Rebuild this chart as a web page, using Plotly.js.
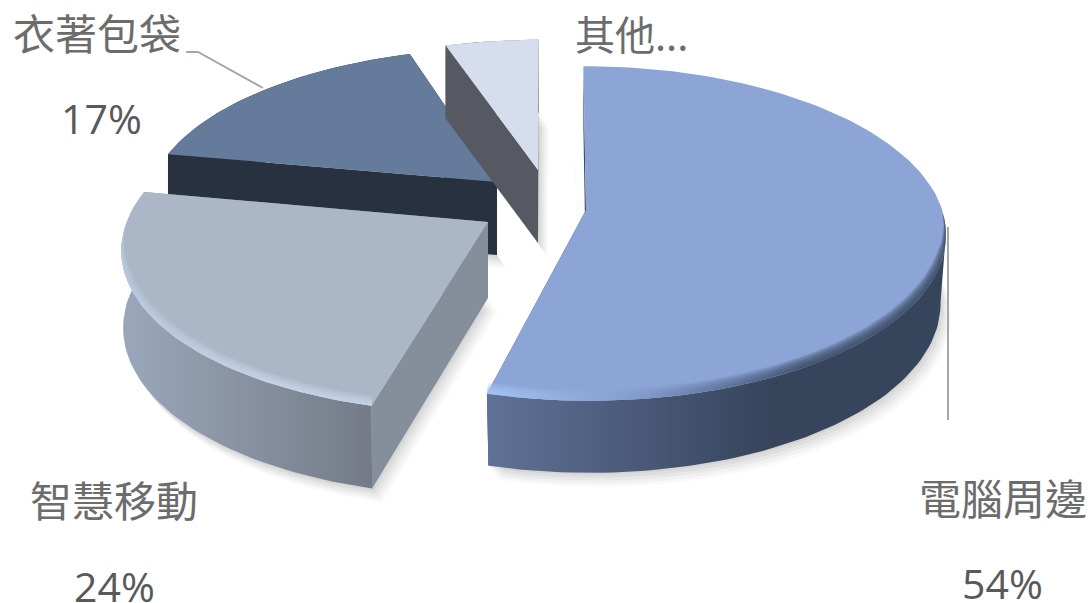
<!DOCTYPE html>
<html>
<head>
<meta charset="utf-8">
<script src="https://cdn.plot.ly/plotly-3.0.1.min.js"></script>
<style>html,body{margin:0;padding:0;background:#fff}#c{width:1089px;height:603px}</style>
</head>
<body>
<div id="c"></div>
<script>
// data
const categories = ["電腦周邊", "智慧移動", "衣著包袋", "其他..."];
const values = [54, 24, 17, 5];
const shownPercent = ["54%", "24%", "17%", ""];

// geometry of the tilted, exploded pie
const RX = 356, RY = 164, P = 0.14;
const slices = [
  {apex:[586,210], sx:1.00, sy:1.00, skew:3,    depth:68, dv:0.06, from:98, floorX:0.985,
   top:"#8ca5d6", face:"#3a4a63", side:["#5f7196","#36445c"], sideRange:[490,770],
   rim:["rgba(170,200,248,A)","rgba(125,150,200,A)","rgba(54,68,92,A)"], rimRange:[490,800], rimA:0.2, rimH:11},
  {apex:[488,222], sx:1.015, sy:1.00, skew:-11, depth:76, dv:0.09, from:0, floorX:0.995,
   top:"#abb7c7", face:"#848f9b", side:["#9aa7ba","#747b87"], sideRange:[125,372],
   rim:["rgba(190,208,232,A)","rgba(205,220,240,A)","rgba(205,220,240,A)"], rimRange:[125,372], rimA:0.14, rimH:10},
  {apex:[497,182], sx:0.97, sy:0.93, skew:-8.6, depth:73, dv:0,    from:0, floorX:1,
   top:"#657b9b", face:"#27313f", side:["#27313f","#27313f"], sideRange:[160,500], rim:null},
  {apex:[538,170], sx:0.96, sy:0.905, skew:-1,  depth:73, dv:0,    from:0, floorX:1,
   top:"#d6deed", face:"#565962", side:["#565962","#565962"], sideRange:[440,540], rim:null}
];

const rad = d => d * Math.PI / 180;
const total = values.reduce((a, b) => a + b, 0);
let acc = 0;
slices.forEach((sl, i) => {
  sl.t0 = acc / total * 360;
  acc += values[i];
  sl.t1 = acc / total * 360;
});

function rimPt(sl, t) {
  const u = Math.sin(rad(t)), v = -Math.cos(rad(t));
  const k = 1 / (1 - P * v);
  return {u, v,
    x: sl.apex[0] + sl.sx * (RX * u + sl.skew * v) * k,
    y: sl.apex[1] + sl.sy * RY * v * k};
}
function floorPt(sl, t) {
  const p = rimPt(sl, t);
  return {x: sl.apex[0] + (p.x - sl.apex[0]) * sl.floorX,
          y: p.y + sl.depth * (1 + sl.dv * p.v)};
}
function arc(fn, a, b) {
  const n = Math.max(2, Math.ceil(Math.abs(b - a) / 1.5));
  const o = [];
  for (let i = 0; i <= n; i++) o.push(fn(a + (b - a) * i / n));
  return o;
}
function poly(pts, extra) {
  const xs = pts.map(p => p.x), ys = pts.map(p => p.y);
  xs.push(xs[0]); ys.push(ys[0]);
  return Object.assign({type:"scatter", mode:"lines", x:xs, y:ys, fill:"toself",
    line:{width:0}, hoverinfo:"skip", showlegend:false}, extra);
}
function grad(colors, range) {
  const cs = colors.map((c, i) => [i / (colors.length - 1), c]);
  return {type:"horizontal", colorscale:cs, start:range[0], stop:range[1]};
}

const traces = [];

// soft cast shadows
function shadow(sl) {
  const layers = [[14,14,0.025],[11,11,0.03],[8,8,0.035],[5,5,0.04],[2,2,0.04]];
  layers.forEach(l => {
    const a = {x:sl.apex[0], y:sl.apex[1] + sl.depth};
    const pts = [a].concat(arc(t => floorPt(sl, t), sl.t0, sl.t1));
    traces.push(poly(pts.map(p => ({x:p.x + l[0] * 0.7, y:p.y + l[1]})),
      {fillcolor:"rgba(0,0,0," + l[2] + ")"}));
  });
}
function faceShadow(sl) {
  [9, 6, 3].forEach(d => {
    const pts = [{x:sl.apex[0], y:sl.apex[1]}, floorPt(sl, sl.t0), {x:sl.apex[0], y:sl.apex[1] + 30}];
    traces.push(poly(pts.map(p => ({x:p.x - d, y:p.y})), {fillcolor:"rgba(0,0,0,0.03)"}));
  });
}

function drawSlice(sl) {
  const A = {x:sl.apex[0], y:sl.apex[1]};
  const A2 = {x:sl.apex[0], y:sl.apex[1] + sl.depth};
  const start = rimPt(sl, sl.t0), end = rimPt(sl, sl.t1);
  const sFloor = floorPt(sl, sl.t0), eFloor = floorPt(sl, sl.t1);

  // flat cut faces
  traces.push(poly([A, start, sFloor, A2], {fillcolor: sl.face}));
  traces.push(poly([A, end, eFloor, A2], {fillcolor: sl.face}));

  // outer wall
  const lo = Math.max(sl.t0, sl.from || sl.t0);
  const wallTop = arc(t => rimPt(sl, t), lo, sl.t1);
  const wallBot = arc(t => floorPt(sl, t), lo, sl.t1).reverse();
  traces.push(poly(wallTop.concat(wallBot),
    {fillcolor: sl.side[1], fillgradient: grad(sl.side, sl.sideRange)}));

  // top surface
  traces.push(poly([A].concat(arc(t => rimPt(sl, t), sl.t0, sl.t1)), {fillcolor: sl.top}));

  // bevel along the outer rim
  if (sl.rim) {
    const steps = 8;
    for (let i = steps; i >= 1; i--) {
      const f = i / steps;
      const outer = arc(t => rimPt(sl, t), sl.t0 > 90 ? sl.t0 : 70, sl.t1);
      const inner = arc(t => {
        const p = rimPt(sl, t);
        const w = Math.max(0, Math.min(1, (p.v + 0.17) * 2));
        return {x: p.x - 4 * f * w * p.u, y: p.y - sl.rimH * f * w};
      }, sl.t0 > 90 ? sl.t0 : 70, sl.t1).reverse();
      const cols = sl.rim.map(c => c.replace("A", String(sl.rimA)));
      traces.push(poly(outer.concat(inner),
        {fillcolor: cols[1], fillgradient: grad(cols, sl.rimRange)}));
    }
  }
}

faceShadow(slices[0]);
[slices[2], slices[3], slices[1], slices[0]].forEach(sl => shadow(sl));
[slices[2], slices[3], slices[1], slices[0]].forEach(sl => drawSlice(sl));

// leader lines
const leaderStyle = {color:"#a6a6a6", width:2};
traces.push({type:"scatter", mode:"lines", x:[186,198,263], y:[52,52,88], line:leaderStyle, hoverinfo:"skip", showlegend:false});
traces.push({type:"scatter", mode:"lines", x:[948,948], y:[227,420], line:leaderStyle, hoverinfo:"skip", showlegend:false});

// labels
const cjk = '"Noto Sans CJK TC","Noto Sans CJK SC",sans-serif';
const latin = '"Open Sans","Noto Sans",sans-serif';
const labelPos = [[1003,496],[114,498],[97,31],[631,33]];
const labelSize = [42, 42, 42, 40];
const pctPos = [[1002,583],[114,586],[101,118],[0,0]];
const annotations = [];
categories.forEach((c, i) => {
  annotations.push({x:labelPos[i][0], y:labelPos[i][1], xref:"x", yref:"y", text:c, showarrow:false,
    xanchor:"center", yanchor:"middle", font:{family:cjk, size:labelSize[i], color:"#6c6c6c"}});
  if (shownPercent[i]) annotations.push({x:pctPos[i][0], y:pctPos[i][1], xref:"x", yref:"y", text:shownPercent[i], showarrow:false,
    xanchor:"center", yanchor:"middle", font:{family:latin, size:41, color:"#595959"}});
});

const hiddenAxis = {visible:false, fixedrange:true, showgrid:false, zeroline:false};
const layout = {
  width:1089, height:603,
  margin:{l:0, r:0, t:0, b:0},
  paper_bgcolor:"#ffffff", plot_bgcolor:"#ffffff",
  showlegend:false, hovermode:false,
  xaxis:Object.assign({range:[0,1089]}, hiddenAxis),
  yaxis:Object.assign({range:[603,0]}, hiddenAxis),
  annotations
};
Plotly.newPlot("c", traces, layout, {displayModeBar:false, staticPlot:true});
</script>
</body>
</html>
